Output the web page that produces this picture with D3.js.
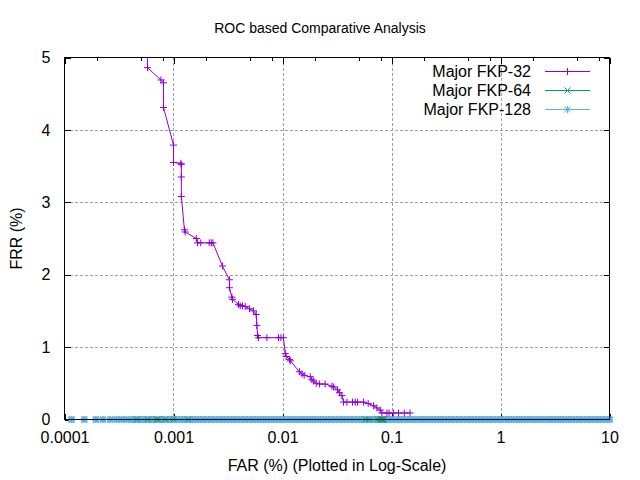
<!DOCTYPE html>
<html>
<head>
<meta charset="utf-8">
<script src="https://cdn.jsdelivr.net/npm/d3@7/dist/d3.min.js"></script>
<style>
  body { margin: 0; background: #fff; }
  svg { display: block; font-family: "Liberation Sans", Arial, sans-serif; }
  text { fill: #000; }
</style>
</head>
<body>
<svg id="chart" width="640" height="480"></svg>
<script>
// chart texts
var titleText = "ROC based Comparative Analysis";
var xLabel = "FAR (%) (Plotted in Log-Scale)";
var yLabel = "FRR (%)";
var seriesNames = ["Major FKP-32", "Major FKP-64", "Major FKP-128"];

// ticks
var xTickValues = [0.0001, 0.001, 0.01, 0.1, 1, 10];
var xTickLabels = ["0.0001", "0.001", "0.01", "0.1", "1", "10"];
var xMinorTicks = [0.0002, 0.0005, 0.0008, 0.002, 0.005, 0.008, 0.02, 0.05, 0.08,
                   0.2, 0.5, 0.8, 2, 5, 8];
var yTickValues = [0, 1, 2, 3, 4, 5];

// Major FKP-32
var fkp32Far = [0.000577, 0.000577, 0.000766, 0.00081, 0.00081, 0.001, 0.001, 0.00117,
                0.00118, 0.00118, 0.00118, 0.00126, 0.00128, 0.00162, 0.00166, 0.00178,
                0.00213, 0.00222, 0.0023, 0.00281, 0.00326, 0.00326, 0.00343, 0.00348,
                0.00395, 0.00409, 0.0043, 0.00455, 0.00498, 0.00542, 0.00574, 0.00582,
                0.0059, 0.00603, 0.00719, 0.00919, 0.00967, 0.0102, 0.0106, 0.0108,
                0.0116, 0.0118, 0.0143, 0.0151, 0.0158, 0.018, 0.0186, 0.0193,
                0.0204, 0.0219, 0.0246, 0.0284, 0.0294, 0.032, 0.0333, 0.0351,
                0.0363, 0.039, 0.0439, 0.0465, 0.0488, 0.0554, 0.0611, 0.0684,
                0.0735, 0.0788, 0.0817, 0.0908, 0.095, 0.104, 0.116, 0.131, 0.148];
var fkp32Frr = [5.4, 4.86, 4.69, 4.65, 4.31, 3.79, 3.55, 3.54,
                3.52, 3.35, 3.08, 2.62, 2.59, 2.5, 2.44, 2.44,
                2.44, 2.44, 2.44, 2.12, 1.93, 1.82, 1.69, 1.66,
                1.59, 1.57, 1.57, 1.56, 1.53, 1.5, 1.45, 1.3,
                1.16, 1.13, 1.13, 1.13, 1.13, 1.13, 0.91, 0.87,
                0.83, 0.81, 0.66, 0.63, 0.61, 0.59, 0.55, 0.53,
                0.5, 0.49, 0.49, 0.46, 0.45, 0.41, 0.37, 0.33,
                0.24, 0.24, 0.24, 0.24, 0.24, 0.24, 0.22, 0.19,
                0.16, 0.13, 0.09, 0.09, 0.09, 0.09, 0.09, 0.09, 0.09];

// Major FKP-64
var fkp64Far = [0.00046, 0.00058, 0.0007, 0.00072, 0.00084, 0.001, 0.00136,
                0.058, 0.062, 0.075, 0.078, 0.08, 0.081, 0.082, 0.083, 0.084, 0.085];
var fkp64Frr = [0, 0, 0, 0, 0, 0, 0,
                0, 0, 0, 0, 0, 0, 0, 0, 0, 0];

// Major FKP-128 (dense band along FRR = 0), rows of 10
var fkp128Far = [
    0.000116, 0.000152, 0.000194, 0.000225, 0.000263, 0.000301, 0.000334, 0.00037, 0.000406, 0.00044,
    0.00047, 0.0005, 0.00053, 0.00056, 0.00059, 0.00063, 0.00067, 0.00071, 0.00075, 0.00079,
    0.00084, 0.00089, 0.00094,
    0.001, 0.00106, 0.00112, 0.00119, 0.00126, 0.00133, 0.00141, 0.0015, 0.00158, 0.00168,
    0.00178, 0.00188, 0.002, 0.00211, 0.00224, 0.00237, 0.00251, 0.00266, 0.00282, 0.00299,
    0.00316, 0.00335, 0.00355, 0.00376, 0.00398, 0.00422, 0.00447, 0.00473, 0.00501, 0.00531,
    0.00562, 0.00596, 0.00631, 0.00668, 0.00708, 0.0075, 0.00794, 0.00841, 0.00891, 0.00944,
    0.01, 0.0106, 0.0112, 0.0119, 0.0126, 0.0133, 0.0141, 0.015, 0.0158, 0.0168,
    0.0178, 0.0188, 0.02, 0.0211, 0.0224, 0.0237, 0.0251, 0.0266, 0.0282, 0.0299,
    0.0316, 0.0335, 0.0355, 0.0376, 0.0398, 0.0422, 0.0447, 0.0473, 0.0501, 0.0531,
    0.0562, 0.0596, 0.0631, 0.0668, 0.0708, 0.075, 0.0794, 0.0841, 0.0891, 0.0944,
    0.1, 0.106, 0.112, 0.119, 0.126, 0.133, 0.141, 0.15, 0.158, 0.168,
    0.178, 0.188, 0.2, 0.211, 0.224, 0.237, 0.251, 0.266, 0.282, 0.299,
    0.316, 0.335, 0.355, 0.376, 0.398, 0.422, 0.447, 0.473, 0.501, 0.531,
    0.562, 0.596, 0.631, 0.668, 0.708, 0.75, 0.794, 0.841, 0.891, 0.944,
    1, 1.06, 1.12, 1.19, 1.26, 1.33, 1.41, 1.5, 1.58, 1.68,
    1.78, 1.88, 2, 2.11, 2.24, 2.37, 2.51, 2.66, 2.82, 2.99,
    3.16, 3.35, 3.55, 3.76, 3.98, 4.22, 4.47, 4.73, 5.01, 5.31,
    5.62, 5.96, 6.31, 6.68, 7.08, 7.5, 7.94, 8.41, 8.91, 9.44,
    10];
var fkp128Frr = [
    0, 0, 0, 0, 0, 0, 0, 0, 0, 0,
    0, 0, 0, 0, 0, 0, 0, 0, 0, 0,
    0, 0, 0,
    0, 0, 0, 0, 0, 0, 0, 0, 0, 0,
    0, 0, 0, 0, 0, 0, 0, 0, 0, 0,
    0, 0, 0, 0, 0, 0, 0, 0, 0, 0,
    0, 0, 0, 0, 0, 0, 0, 0, 0, 0,
    0, 0, 0, 0, 0, 0, 0, 0, 0, 0,
    0, 0, 0, 0, 0, 0, 0, 0, 0, 0,
    0, 0, 0, 0, 0, 0, 0, 0, 0, 0,
    0, 0, 0, 0, 0, 0, 0, 0, 0, 0,
    0, 0, 0, 0, 0, 0, 0, 0, 0, 0,
    0, 0, 0, 0, 0, 0, 0, 0, 0, 0,
    0, 0, 0, 0, 0, 0, 0, 0, 0, 0,
    0, 0, 0, 0, 0, 0, 0, 0, 0, 0,
    0, 0, 0, 0, 0, 0, 0, 0, 0, 0,
    0, 0, 0, 0, 0, 0, 0, 0, 0, 0,
    0, 0, 0, 0, 0, 0, 0, 0, 0, 0,
    0, 0, 0, 0, 0, 0, 0, 0, 0, 0,
    0];

var colors = ["#9400d3", "#009e73", "#56b4e9"];
var markers = ["plus", "cross", "star"];

var svg = d3.select("#chart");
var fontSize = 16;

// plot box (gnuplot-like margins)
var plotLeft = 64.5, plotRight = 609.5, plotTop = 57.5, plotBottom = 419.5;

var x = d3.scaleLog().domain([0.0001, 10]).range([plotLeft, plotRight]);
var y = d3.scaleLinear().domain([0, 5]).range([plotBottom, plotTop]);

// marker path around (0,0)
function markerPath(kind) {
    var p = d3.path();
    var s = 3.5, c = 3;
    if (kind == "plus" || kind == "star") {
        p.moveTo(-s, 0); p.lineTo(s, 0);
        p.moveTo(0, -s); p.lineTo(0, s);
    }
    if (kind == "cross" || kind == "star") {
        p.moveTo(-c, -c); p.lineTo(c, c);
        p.moveTo(-c, c); p.lineTo(c, -c);
    }
    return p.toString();
}

// grid
var grid = svg.append("g")
    .attr("stroke", "#a0a0a0")
    .attr("stroke-width", 1)
    .attr("stroke-dasharray", "3,2")
    .attr("shape-rendering", "crispEdges");
grid.selectAll(".gx")
    .data(xTickValues.slice(1, -1))
    .enter().append("line")
    .attr("x1", function(d) { return Math.round(x(d)) + 0.5; })
    .attr("x2", function(d) { return Math.round(x(d)) + 0.5; })
    .attr("y1", plotTop).attr("y2", plotBottom);
grid.selectAll(".gy")
    .data(yTickValues.slice(1, -1))
    .enter().append("line")
    .attr("x1", plotLeft).attr("x2", plotRight)
    .attr("y1", function(d) { return Math.round(y(d)) + 0.5; })
    .attr("y2", function(d) { return Math.round(y(d)) + 0.5; });

// axes (ticks inward, mirrored on top and right)
function styleAxis(g) {
    g.select(".domain").remove();
    g.selectAll("line").attr("stroke", "#000").attr("shape-rendering", "crispEdges");
    g.selectAll("text").attr("font-size", fontSize).attr("font-family", "Liberation Sans, Arial, sans-serif").attr("fill", "#000");
}

svg.append("g").attr("transform", "translate(0," + plotBottom + ")")
    .call(d3.axisBottom(x).tickValues(xTickValues)
        .tickFormat(function(d, i) { return xTickLabels[i]; })
        .tickSize(-6).tickSizeOuter(0).tickPadding(12))
    .call(styleAxis);
svg.append("g").attr("transform", "translate(0," + plotTop + ")")
    .call(d3.axisTop(x).tickValues(xTickValues).tickFormat("").tickSize(-6).tickSizeOuter(0))
    .call(styleAxis);
svg.append("g").attr("transform", "translate(0," + plotBottom + ")")
    .call(d3.axisBottom(x).tickValues(xMinorTicks).tickFormat("").tickSize(-3).tickSizeOuter(0))
    .call(styleAxis);
svg.append("g").attr("transform", "translate(0," + plotTop + ")")
    .call(d3.axisTop(x).tickValues(xMinorTicks).tickFormat("").tickSize(-3).tickSizeOuter(0))
    .call(styleAxis);
svg.append("g").attr("transform", "translate(" + plotLeft + ",0)")
    .call(d3.axisLeft(y).tickValues(yTickValues).tickFormat(d3.format("d"))
        .tickSize(-6).tickSizeOuter(0).tickPadding(14))
    .call(styleAxis);
svg.append("g").attr("transform", "translate(" + plotRight + ",0)")
    .call(d3.axisRight(y).tickValues(yTickValues).tickFormat("").tickSize(-6).tickSizeOuter(0))
    .call(styleAxis);

// clip (only the top matters, markers on FRR=0 stick out below)
svg.append("clipPath").attr("id", "plotclip")
    .append("rect").attr("x", 0).attr("y", plotTop).attr("width", 640).attr("height", 480 - plotTop);

var series = [
    { name: seriesNames[0], far: fkp32Far, frr: fkp32Frr, color: colors[0], marker: markers[0] },
    { name: seriesNames[1], far: fkp64Far, frr: fkp64Frr, color: colors[1], marker: markers[1] },
    { name: seriesNames[2], far: fkp128Far, frr: fkp128Frr, color: colors[2], marker: markers[2] }
];

var line = d3.line()
    .x(function(d) { return x(d[0]); })
    .y(function(d) { return y(d[1]); });

var plot = svg.append("g").attr("clip-path", "url(#plotclip)");

// draw the bottom series first so the FKP-32 curve stays visible
[2, 1, 0].forEach(function(k) {
    var s = series[k];
    var pts = s.far.map(function(f, i) { return [f, s.frr[i]]; });
    var g = plot.append("g");
    g.append("path")
        .attr("d", line(pts))
        .attr("fill", "none")
        .attr("stroke", s.color)
        .attr("stroke-width", 1);
    g.selectAll(".pt")
        .data(pts)
        .enter().append("path")
        .attr("transform", function(d) { return "translate(" + x(d[0]) + "," + y(d[1]) + ")"; })
        .attr("d", markerPath(s.marker))
        .attr("fill", "none")
        .attr("stroke", s.color)
        .attr("stroke-width", k == 2 ? 1.8 : 1);
});

// border on top
svg.append("rect")
    .attr("x", plotLeft).attr("y", plotTop)
    .attr("width", plotRight - plotLeft).attr("height", plotBottom - plotTop)
    .attr("fill", "none").attr("stroke", "#000").attr("stroke-width", 1)
    .attr("shape-rendering", "crispEdges");

// legend
var legend = svg.append("g");
series.forEach(function(s, i) {
    var ly = 71 + i * 19;
    legend.append("text")
        .attr("x", 531).attr("y", ly).attr("dy", "0.4em")
        .attr("text-anchor", "end")
        .attr("font-size", fontSize)
        .text(s.name);
    legend.append("line")
        .attr("x1", 545).attr("x2", 590).attr("y1", ly + 0.5).attr("y2", ly + 0.5)
        .attr("stroke", s.color).attr("stroke-width", 1);
    legend.append("path")
        .attr("transform", "translate(567.5," + (ly + 0.5) + ")")
        .attr("d", markerPath(s.marker))
        .attr("fill", "none").attr("stroke", s.color);
});

// titles
svg.append("text")
    .attr("x", 320).attr("y", 33)
    .attr("text-anchor", "middle")
    .attr("font-size", 14)
    .text(titleText);
svg.append("text")
    .attr("x", (plotLeft + plotRight) / 2).attr("y", 471)
    .attr("text-anchor", "middle")
    .attr("font-size", fontSize)
    .text(xLabel);
svg.append("text")
    .attr("transform", "translate(22," + ((plotTop + plotBottom) / 2) + ") rotate(-90)")
    .attr("text-anchor", "middle")
    .attr("font-size", fontSize)
    .text(yLabel);
</script>
</body>
</html>
